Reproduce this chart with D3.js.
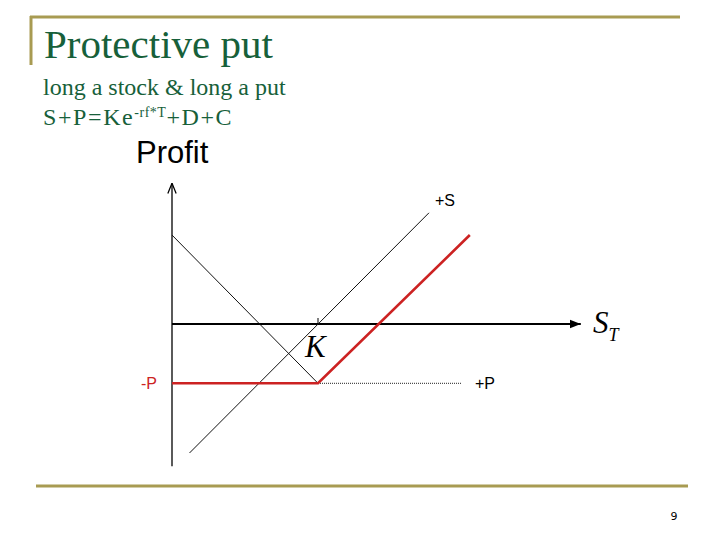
<!DOCTYPE html>
<html>
<head>
<meta charset="utf-8">
<script src="https://cdn.jsdelivr.net/npm/d3@7"></script>
<style>
  body { margin: 0; background: #fff; }
  svg { display: block; }
</style>
</head>
<body>
<div id="container"></div>
<script>
// payoff diagram values (S_T on x, profit on y)
const strike = 100;
const premium = 40;
const axisX = [0, 280];
const axisY = [-96, 95];

const stockS = [12, 176];
const stockProfit = [-87, 75];

const putS = [0, 100];
const putProfit = [60, -40];
const putFlatS = [100, 198];
const putFlatProfit = [-40, -40];

const protS = [0, 100, 204];
const protProfit = [-40, -40, 60];

const width = 720, height = 540;
const gold = '#a89b52';
const green = '#17603a';
const red = '#cc2222';

const svg = d3.select('#container')
              .append('svg')
              .attr('width', width)
              .attr('height', height);

// slide frame
svg.append('line').attr('x1', 30).attr('x2', 680).attr('y1', 17).attr('y2', 17)
   .attr('stroke', gold).attr('stroke-width', 3);
svg.append('line').attr('x1', 31).attr('x2', 31).attr('y1', 16).attr('y2', 65)
   .attr('stroke', gold).attr('stroke-width', 3);
svg.append('line').attr('x1', 36).attr('x2', 688).attr('y1', 486).attr('y2', 486)
   .attr('stroke', gold).attr('stroke-width', 3);

svg.append('text').attr('x', 44).attr('y', 58)
   .attr('font-family', 'Liberation Serif').attr('font-size', 41).attr('fill', green)
   .text('Protective put');
svg.append('text').attr('x', 43).attr('y', 95)
   .attr('font-family', 'Liberation Serif').attr('font-size', 24).attr('fill', green)
   .text('long a stock & long a put');
const f = svg.append('text').attr('x', 43).attr('y', 125)
   .attr('font-family', 'Liberation Serif').attr('font-size', 24).attr('fill', green)
   .attr('letter-spacing', 1.6);
f.append('tspan').text('S+P=Ke');
f.append('tspan').attr('font-size', 14).attr('dy', -8).attr('letter-spacing', 0.5).text('-rf*T');
f.append('tspan').attr('dy', 8).text('+D+C');

svg.append('text').attr('x', 674).attr('y', 520).attr('text-anchor', 'middle')
   .attr('font-family', 'DejaVu Sans').attr('font-size', 11).text('9');

svg.append('text').attr('x', 136).attr('y', 163)
   .attr('font-family', 'Liberation Sans').attr('font-size', 31).text('Profit');

// scales
const x = d3.scaleLinear().domain([0, strike]).range([172, 318]);
const y = d3.scaleLinear().domain([0, -premium]).range([324, 383.3]);

const defs = svg.append('defs');
defs.append('marker').attr('id', 'arrX').attr('viewBox', '0 0 10 10')
    .attr('refX', 10).attr('refY', 5).attr('markerWidth', 5).attr('markerHeight', 5)
    .attr('orient', 'auto').attr('markerUnits', 'strokeWidth')
    .append('path').attr('d', 'M0,1 L10,5 L0,9 Z').attr('fill', '#000');
defs.append('marker').attr('id', 'arrY').attr('viewBox', '0 0 10 10')
    .attr('refX', 10).attr('refY', 5).attr('markerWidth', 8).attr('markerHeight', 8)
    .attr('orient', 'auto').attr('markerUnits', 'strokeWidth')
    .append('path').attr('d', 'M0,1 L10,5 L0,9').attr('fill', 'none').attr('stroke', '#000').attr('stroke-width', 1.2);

// axes
svg.append('line')
   .attr('x1', x(axisX[0])).attr('x2', x(axisX[1])).attr('y1', y(0)).attr('y2', y(0))
   .attr('stroke', '#000').attr('stroke-width', 2.2).attr('marker-end', 'url(#arrX)');
svg.append('line')
   .attr('x1', x(0)).attr('x2', x(0)).attr('y1', y(axisY[0])).attr('y2', y(axisY[1]))
   .attr('stroke', '#000').attr('stroke-width', 1.3).attr('marker-end', 'url(#arrY)');
svg.append('line')
   .attr('x1', x(strike)).attr('x2', x(strike)).attr('y1', y(0) - 6).attr('y2', y(0))
   .attr('stroke', '#000').attr('stroke-width', 1);

const line = d3.line().x(d => x(d[0])).y(d => y(d[1]));
const pts = (a, b) => a.map((v, i) => [v, b[i]]);

svg.append('path').attr('d', line(pts(stockS, stockProfit)))
   .attr('fill', 'none').attr('stroke', '#111').attr('stroke-width', 1);
svg.append('path').attr('d', line(pts(putS, putProfit)))
   .attr('fill', 'none').attr('stroke', '#111').attr('stroke-width', 1);
svg.append('path').attr('d', line(pts(putFlatS, putFlatProfit)))
   .attr('fill', 'none').attr('stroke', '#222').attr('stroke-width', 1)
   .attr('stroke-dasharray', '1,1');
svg.append('path').attr('d', line(pts(protS, protProfit)))
   .attr('fill', 'none').attr('stroke', red).attr('stroke-width', 2.6);

// labels
svg.append('text').attr('x', 435).attr('y', 206)
   .attr('font-family', 'Liberation Sans').attr('font-size', 16).text('+S');
svg.append('text').attr('x', 141).attr('y', 389)
   .attr('font-family', 'Liberation Sans').attr('font-size', 16).attr('fill', red).text('-P');
svg.append('text').attr('x', 475).attr('y', 389)
   .attr('font-family', 'Liberation Sans').attr('font-size', 16).text('+P');
svg.append('text').attr('x', 305).attr('y', 357)
   .attr('font-family', 'Liberation Serif').attr('font-style', 'italic').attr('font-size', 31).text('K');
const st = svg.append('text').attr('x', 593).attr('y', 333)
   .attr('font-family', 'Liberation Serif').attr('font-style', 'italic').attr('font-size', 31);
st.append('tspan').text('S');
st.append('tspan').attr('font-size', 18).attr('dy', 8).text('T');
</script>
</body>
</html>
